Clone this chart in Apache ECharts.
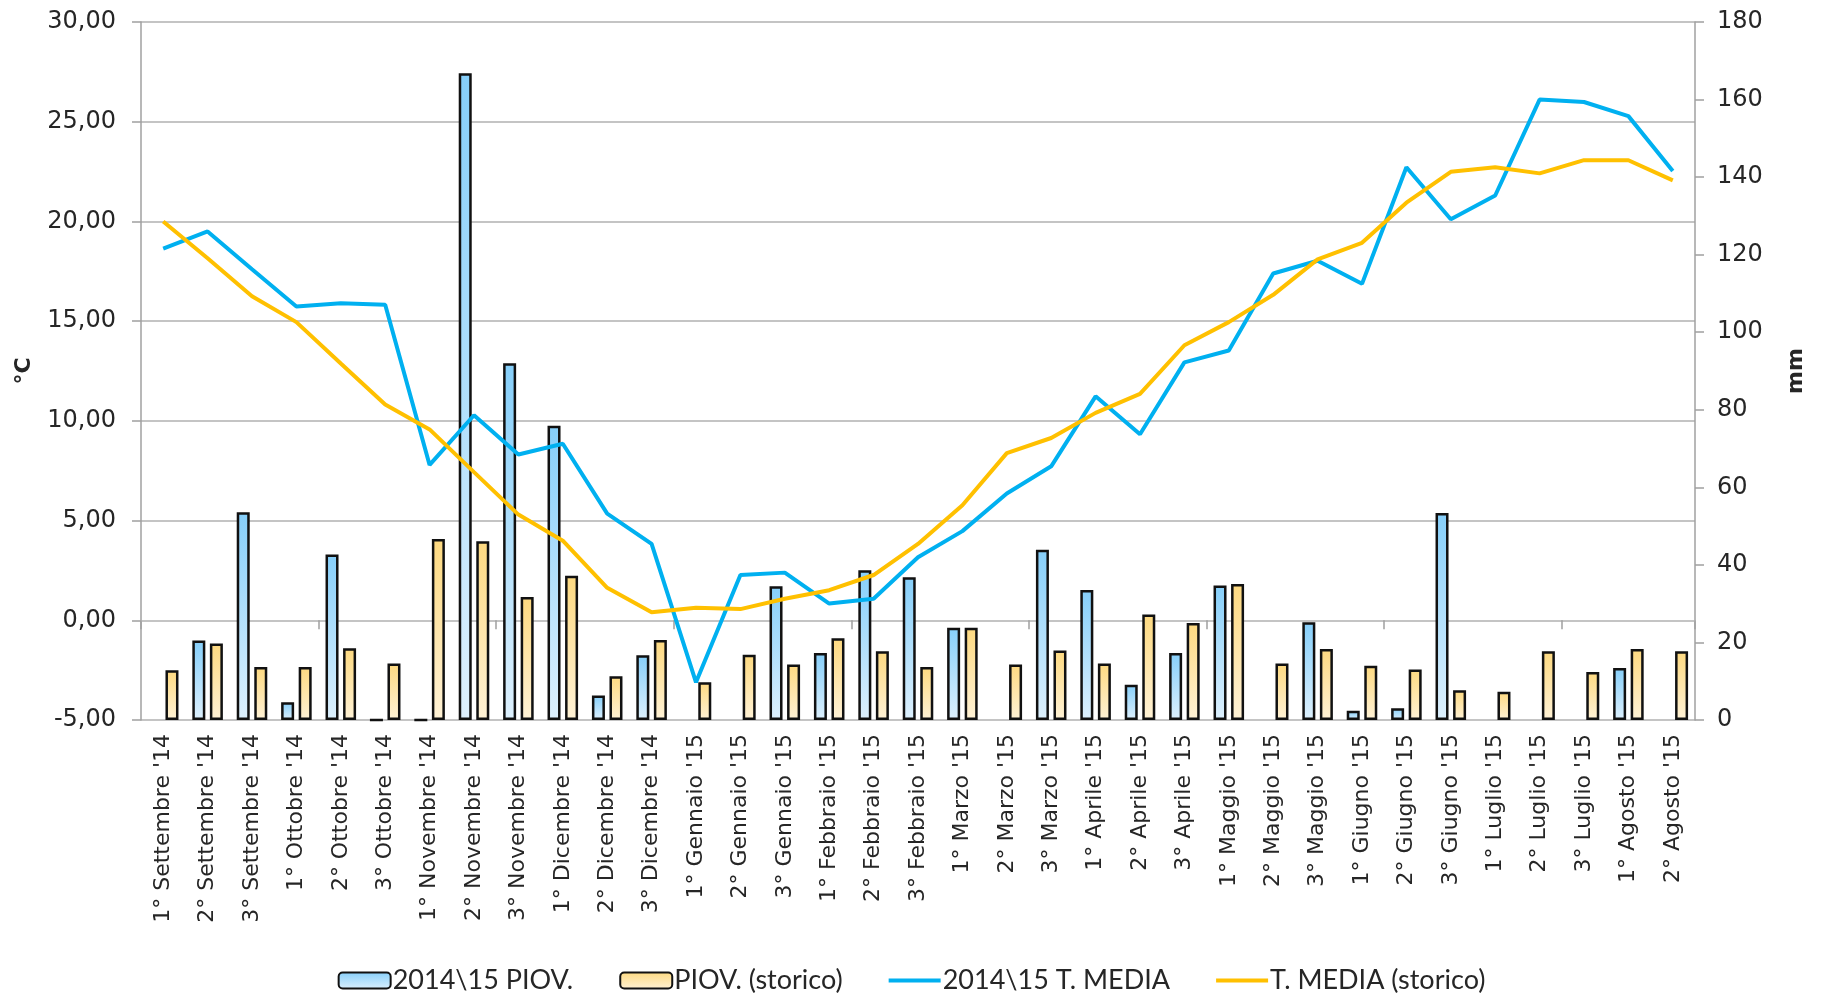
<!DOCTYPE html>
<html>
<head>
<meta charset="utf-8">
<script src="https://cdn.jsdelivr.net/npm/echarts@6/dist/echarts.min.js"></script>
<style>
  html, body { margin: 0; padding: 0; background: #fff; }
  #chart { width: 1823px; height: 998px; }
</style>
</head>
<body>
<div id="chart"></div>
<script>
const categories = [
  "1° Settembre '14", "2° Settembre '14", "3° Settembre '14",
  "1° Ottobre '14", "2° Ottobre '14", "3° Ottobre '14",
  "1° Novembre '14", "2° Novembre '14", "3° Novembre '14",
  "1° Dicembre '14", "2° Dicembre '14", "3° Dicembre '14",
  "1° Gennaio '15", "2° Gennaio '15", "3° Gennaio '15",
  "1° Febbraio '15", "2° Febbraio '15", "3° Febbraio '15",
  "1° Marzo '15", "2° Marzo '15", "3° Marzo '15",
  "1° Aprile '15", "2° Aprile '15", "3° Aprile '15",
  "1° Maggio '15", "2° Maggio '15", "3° Maggio '15",
  "1° Giugno '15", "2° Giugno '15", "3° Giugno '15",
  "1° Luglio '15", "2° Luglio '15", "3° Luglio '15",
  "1° Agosto '15", "2° Agosto '15"
];

// mm (right axis)
const piov2015 = [null, 20.5, 53.6, 4.6, 42.7, 0, 0, 166.8, 92, 75.9, 6.3, 16.7, null, null, 34.5,
  17.3, 38.6, 36.8, 23.8, null, 43.9, 33.5, 9.1, 17.3, 34.7, null, 25.2, 2.4, 3.0, 53.4,
  null, null, null, 13.4, null];
const piovStorico = [12.8, 19.7, 13.65, 13.65, 18.5, 14.6, 46.7, 46.1, 31.7, 37.2, 11.3, 20.6, 9.75, 16.8, 14.3,
  21.1, 17.7, 13.65, 23.8, 14.3, 17.9, 14.6, 27.2, 25.0, 35.1, 14.6, 18.3, 14.0, 13.0, 7.7,
  7.3, 17.7, 12.4, 18.3, 17.7];

// °C (left axis)
const tMedia2015 = [18.64, 19.5, 17.6, 15.73, 15.9, 15.82, 7.79, 10.28, 8.31, 8.85, 5.35, 3.83, -3.11, 2.27, 2.39,
  0.84, 1.08, 3.16, 4.47, 6.36, 7.72, 11.23, 9.33, 12.93, 13.53, 17.39, 18.03, 16.87, 22.72, 20.11,
  21.3, 26.11, 25.99, 25.28, 22.53];
const tMediaStorico = [20.0, 18.15, 16.25, 14.95, 12.88, 10.82, 9.57, 7.43, 5.3, 3.99, 1.63, 0.4, 0.63, 0.56, 1.08,
  1.51, 2.27, 3.83, 5.77, 8.38, 9.14, 10.4, 11.35, 13.79, 14.95, 16.32, 18.1, 18.93, 20.94, 22.49,
  22.72, 22.41, 23.07, 23.07, 22.06];

const textColor = '#262626';
const gridColor = '#c4c4c4';
const axisColor = '#a0a0a0';
const font = 'DejaVu Sans';
const lineIcon = 'path://M0,0H52V4H0Z';

function barGradient(top, bottom) {
  return new echarts.graphic.LinearGradient(0, 0, 0, 1, [
    {offset: 0, color: top},
    {offset: 1, color: bottom}
  ]);
}

const chart = echarts.init(document.getElementById('chart'));

chart.setOption({
  animation: false,
  textStyle: {fontFamily: font, color: textColor},
  grid: {left: 141, right: 128, top: 22, bottom: 278, outerBoundsMode: 'none'},
  legend: {
    top: 962,
    left: 'center',
    itemWidth: 52,
    itemHeight: 16,
    itemGap: 46,
    symbolKeepAspect: true,
    textStyle: {fontFamily: 'Lato', fontSize: 27, color: textColor, padding: [0, 0, 0, -3]},
    data: [
      {name: '2014\\15 PIOV.'},
      {name: 'PIOV. (storico)'},
      {name: '2014\\15 T. MEDIA', icon: lineIcon},
      {name: 'T. MEDIA (storico)', icon: lineIcon}
    ]
  },
  xAxis: [
    {
      type: 'category',
      data: categories,
      position: 'bottom',
      axisLine: {show: false, onZero: false},
      axisTick: {show: false},
      axisLabel: {
        interval: 0,
        rotate: 90,
        fontSize: 22,
        color: textColor,
        margin: 14
      }
    },
    {
      type: 'category',
      data: categories,
      position: 'bottom',
      axisLine: {show: true, onZero: true, onZeroAxisIndex: 0, lineStyle: {color: gridColor, width: 2}},
      axisTick: {show: true, length: 9, lineStyle: {color: axisColor, width: 1.5}},
      axisLabel: {show: false}
    }
  ],
  yAxis: [
    {
      type: 'value',
      min: -5,
      max: 30,
      interval: 5,
      name: '°C',
      nameLocation: 'middle',
      nameGap: 106,
      nameRotate: 90,
      nameTextStyle: {fontSize: 22, fontWeight: 'bold', color: textColor},
      axisLine: {show: true, lineStyle: {color: axisColor, width: 1.5}},
      axisTick: {show: true, length: 9, lineStyle: {color: axisColor, width: 1.5}},
      axisLabel: {
        fontSize: 24,
        color: textColor,
        margin: 25,
        formatter: v => v.toFixed(2).replace('.', ',')
      },
      splitLine: {show: true, lineStyle: {color: gridColor, width: 2}}
    },
    {
      type: 'value',
      min: 0,
      max: 180,
      interval: 20,
      name: 'mm',
      nameLocation: 'middle',
      nameGap: 90,
      nameRotate: 90,
      nameTextStyle: {fontSize: 22, fontWeight: 'bold', color: textColor},
      axisLine: {show: true, lineStyle: {color: axisColor, width: 1.5}},
      axisTick: {show: true, length: 9, lineStyle: {color: axisColor, width: 1.5}},
      axisLabel: {fontSize: 24, color: textColor, margin: 22},
      splitLine: {show: false}
    }
  ],
  series: [
    {
      name: '2014\\15 PIOV.',
      type: 'bar',
      yAxisIndex: 1,
      barWidth: 13,
      barGap: '35%',
      data: piov2015,
      itemStyle: {
        color: barGradient('#86cffa', '#ddf0fd'),
        borderColor: '#111',
        borderWidth: 2.5
      }
    },
    {
      name: 'PIOV. (storico)',
      type: 'bar',
      yAxisIndex: 1,
      barWidth: 13,
      barGap: '35%',
      data: piovStorico,
      itemStyle: {
        color: barGradient('#fdd980', '#fff2d6'),
        borderColor: '#111',
        borderWidth: 2.5
      }
    },
    {
      name: '2014\\15 T. MEDIA',
      type: 'line',
      yAxisIndex: 0,
      data: tMedia2015,
      symbol: 'none',
      lineStyle: {color: '#00b0f0', width: 4},
      itemStyle: {color: '#00b0f0'}
    },
    {
      name: 'T. MEDIA (storico)',
      type: 'line',
      yAxisIndex: 0,
      data: tMediaStorico,
      symbol: 'none',
      lineStyle: {color: '#ffc000', width: 4},
      itemStyle: {color: '#ffc000'}
    }
  ]
});
</script>
</body>
</html>
